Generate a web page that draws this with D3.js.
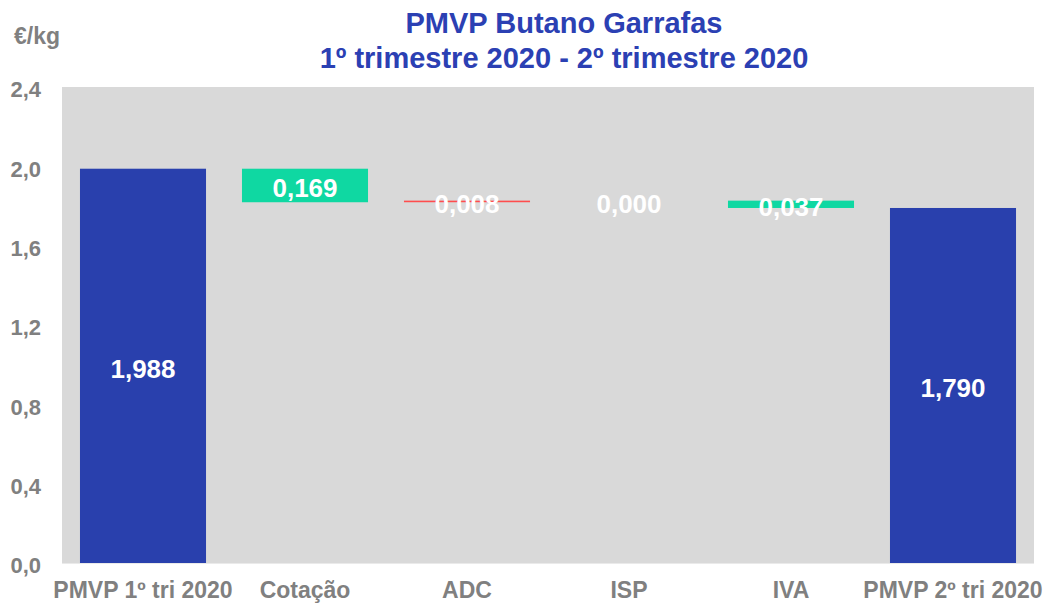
<!DOCTYPE html>
<html>
<head>
    <meta charset="utf-8">
    <title>PMVP Butano Garrafas</title>
    <script src="https://cdn.jsdelivr.net/npm/d3@7"></script>
    <style>
        body {
            margin: 0;
            background: #fff;
            font-family: "Liberation Sans", Arial, sans-serif;
        }
        svg {
            display: block;
        }
        .tick line, .domain {
            display: none;
        }
        .tick text {
            fill: #808080;
            font-size: 22px;
            font-weight: bold;
            font-family: "Liberation Sans", Arial, sans-serif;
        }
    </style>
</head>
<body>
<script>
    // data
    var categories = ["PMVP 1º tri 2020", "Cotação", "ADC", "ISP", "IVA", "PMVP 2º tri 2020"];
    var values = [1.988, -0.169, 0.008, 0.000, -0.037, 1.790];
    var kinds = ["total", "delta", "delta", "delta", "delta", "total"];
    var yTicks = [0, 0.4, 0.8, 1.2, 1.6, 2.0, 2.4];
    var titleLines = ["PMVP Butano Garrafas", "1º trimestre 2020 - 2º trimestre 2020"];
    var unitLabel = "€/kg";

    var W = 1048, H = 603;
    var plotLeft = 62, plotRight = 1034, plotTop = 87, plotBottom = 563;

    var blue = "#2940ad", green = "#0fd8a2", red = "#ff4d4d", grey = "#808080";

    var comma = function (v, n) {
        return Math.abs(v).toFixed(n).replace(".", ",");
    };

    // build the waterfall steps
    var running = 0;
    var steps = categories.map(function (c, i) {
        var v = values[i], s;
        if (kinds[i] === "total") {
            s = {cat: c, y0: 0, y1: v, color: blue};
            running = v;
        } else {
            s = {cat: c, y0: running, y1: running + v, color: v > 0 ? red : green};
            running = running + v;
        }
        s.v = v;
        return s;
    });

    var svg = d3.select("body").append("svg")
            .attr("width", W)
            .attr("height", H);

    var x = d3.scaleBand()
            .domain(categories)
            .range([plotLeft, plotRight])
            .paddingInner(0.222)
            .paddingOuter(0.111);

    var y = d3.scaleLinear()
            .domain([0, 2.4])
            .range([plotBottom, plotTop]);

    // plot background
    svg.append("rect")
            .attr("x", plotLeft)
            .attr("y", plotTop)
            .attr("width", plotRight - plotLeft)
            .attr("height", plotBottom - plotTop)
            .attr("fill", "#d9d9d9");

    svg.append("line")
            .attr("x1", plotLeft).attr("x2", plotRight)
            .attr("y1", plotBottom + 0.5).attr("y2", plotBottom + 0.5)
            .attr("stroke", "#eaeaea");

    // y axis
    svg.append("g")
            .attr("transform", "translate(" + plotLeft + ",0)")
            .call(d3.axisLeft(y).tickValues(yTicks).tickSize(0).tickPadding(21)
                    .tickFormat(function (d) { return comma(d, 1); }))
            .selectAll("text")
            .attr("dy", "0.45em");

    // bars
    svg.selectAll("rect.bar").data(steps).enter()
            .append("rect")
            .attr("class", "bar")
            .attr("x", function (d) { return x(d.cat); })
            .attr("width", x.bandwidth())
            .attr("y", function (d) { return y(Math.max(d.y0, d.y1)); })
            .attr("height", function (d) { return Math.abs(y(d.y0) - y(d.y1)); })
            .attr("fill", function (d) { return d.color; });

    // value labels
    svg.selectAll("text.val").data(steps).enter()
            .append("text")
            .attr("class", "val")
            .attr("x", function (d) { return x(d.cat) + x.bandwidth() / 2; })
            .attr("y", function (d) { return (y(d.y0) + y(d.y1)) / 2 + 3; })
            .attr("text-anchor", "middle")
            .attr("dominant-baseline", "central")
            .attr("fill", "#fff")
            .style("font-size", "26px")
            .style("font-weight", "bold")
            .text(function (d) { return comma(d.v, 3); });

    // category labels
    svg.selectAll("text.cat").data(categories).enter()
            .append("text")
            .attr("class", "cat")
            .attr("x", function (d) { return x(d) + x.bandwidth() / 2; })
            .attr("y", 598)
            .attr("text-anchor", "middle")
            .attr("fill", grey)
            .style("font-size", "23px")
            .style("font-weight", "bold")
            .text(function (d) { return d; });

    // unit
    svg.append("text")
            .attr("x", 14)
            .attr("y", 44)
            .attr("fill", grey)
            .style("font-size", "23px")
            .style("font-weight", "bold")
            .text(unitLabel);

    // title
    svg.selectAll("text.title").data(titleLines).enter()
            .append("text")
            .attr("class", "title")
            .attr("x", 564)
            .attr("y", function (d, i) { return 33 + i * 35; })
            .attr("text-anchor", "middle")
            .attr("fill", "#2b40b3")
            .style("font-size", "29px")
            .style("font-weight", "bold")
            .text(function (d) { return d; });
</script>
</body>
</html>
